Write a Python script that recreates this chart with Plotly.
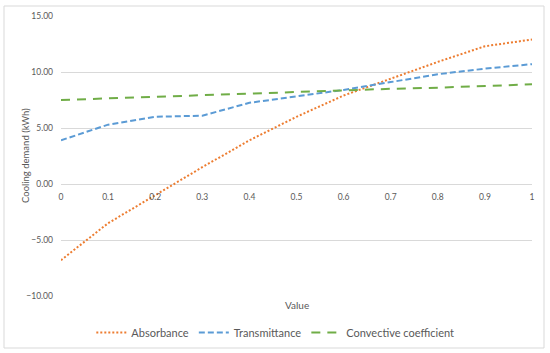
import plotly.graph_objects as go

values_x = [0, 0.1, 0.2, 0.3, 0.4, 0.5, 0.6, 0.7, 0.8, 0.9, 1]
tick_labels = ["0", "0.1", "0.2", "0.3", "0.4", "0.5", "0.6", "0.7", "0.8", "0.9", "1"]
absorbance = [-6.8, -3.5, -1.0, 1.5, 3.9, 6.0, 7.9, 9.4, 10.9, 12.3, 12.9]
transmittance = [3.9, 5.3, 6.0, 6.1, 7.25, 7.8, 8.4, 9.1, 9.8, 10.3, 10.7]
convective = [7.5, 7.65, 7.8, 7.95, 8.1, 8.2, 8.35, 8.5, 8.6, 8.75, 8.9]

W, H = 550, 353
L, R, T, B = 61, 18, 16, 57
pw, ph = W - L - R, H - T - B
ymin, ymax = -10, 15

fig = go.Figure()
fig.add_trace(go.Scatter(x=values_x, y=absorbance, mode="lines", name="Absorbance",
                         line=dict(color="#ED7D31", width=2, dash="2px,2px")))
fig.add_trace(go.Scatter(x=values_x, y=transmittance, mode="lines", name="Transmittance",
                         line=dict(color="#5B9BD5", width=2, dash="6px,3px")))
fig.add_trace(go.Scatter(x=values_x, y=convective, mode="lines", name="Convective coefficient",
                         line=dict(color="#70AD47", width=2, dash="9px,7px")))

font_family = "Lato, Open Sans, Liberation Sans, sans-serif"
grey = "#595959"

zero_pos = (0 - ymin) / (ymax - ymin)

fig.update_layout(
    width=W, height=H,
    margin=dict(l=L, r=R, t=T, b=B, autoexpand=False),
    paper_bgcolor="white", plot_bgcolor="white",
    font=dict(family=font_family, color=grey),
    xaxis=dict(range=[0, 1], tickvals=values_x, ticktext=tick_labels,
               showgrid=False, zeroline=False, showline=False, ticks="",
               anchor="free", position=zero_pos, automargin=False,
               ticklabelstandoff=6,
               tickfont=dict(size=8.5, color=grey)),
    yaxis=dict(range=[ymin, ymax], tickvals=[-10, -5, 0, 5, 10, 15],
               tickformat=".2f", showgrid=True, gridcolor="#D9D9D9", gridwidth=1,
               zeroline=False, showline=False, ticks="", automargin=False,
               ticklabelstandoff=7,
               tickfont=dict(size=8.5, color=grey)),
    legend=dict(orientation="h", x=0.455, xanchor="center", y=-0.13, yanchor="middle",
                font=dict(size=11, color=grey), itemwidth=30),
    showlegend=True,
)

fig.add_annotation(text="Cooling demand (kWh)", xref="paper", yref="paper",
                   x=(25 - L) / pw, y=0.5, textangle=-90, showarrow=False,
                   font=dict(size=9.5, color=grey), xanchor="center", yanchor="middle")

fig.add_annotation(text="Value", xref="paper", yref="paper", x=0.5, y=(296 - 305) / ph,
                   showarrow=False, font=dict(size=10, color=grey), yanchor="middle")

fig.add_shape(type="rect", xref="paper", yref="paper",
              x0=(4 - L) / pw, x1=(544 - L) / pw,
              y0=(H - B - 348) / ph, y1=(H - B - 6) / ph,
              line=dict(color="#D9D9D9", width=1), layer="above")

fig.write_html("out.html", config={"displayModeBar": False},
               post_script="document.body.style.margin='0';document.body.style.overflow='hidden';")
